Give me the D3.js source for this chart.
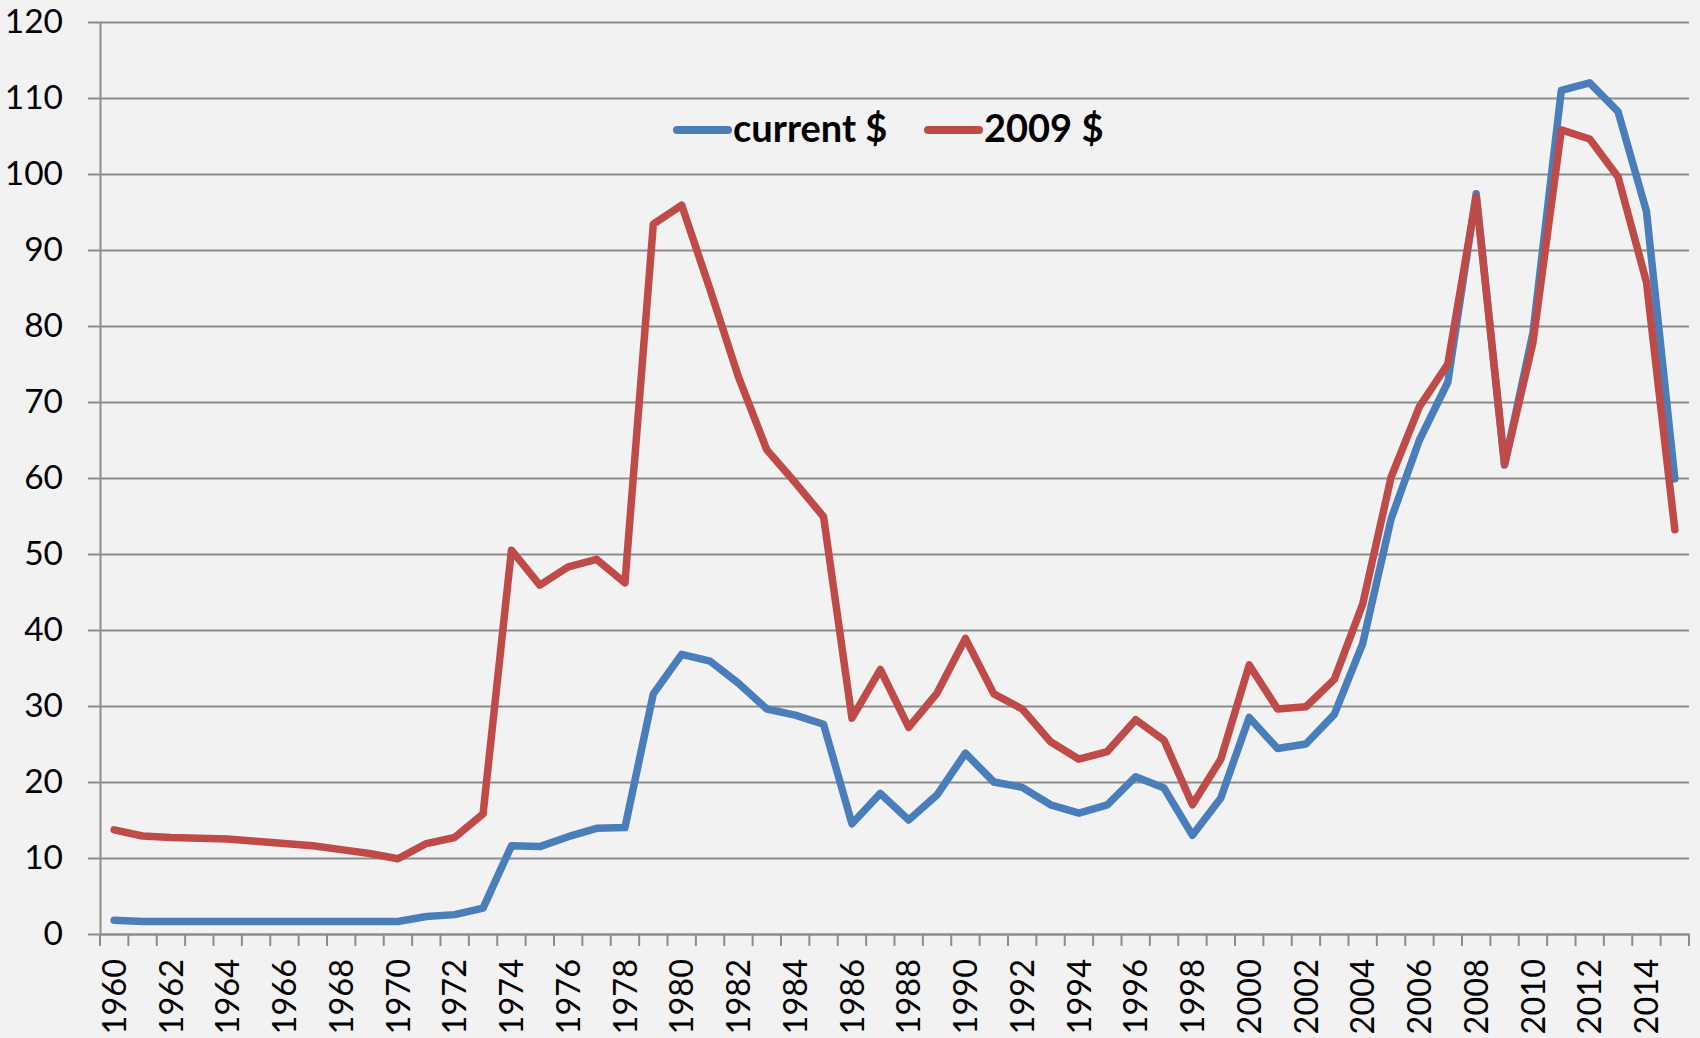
<!DOCTYPE html>
<html>
<head>
<meta charset="utf-8">
<script src="https://cdn.jsdelivr.net/npm/d3@7"></script>
<style>
  html, body { margin: 0; padding: 0; background: #f2f2f2; }
  svg { display: block; }
</style>
</head>
<body>
<svg id="chart" width="1700" height="1038"></svg>
<script>
const years = d3.range(1960, 2016);

const seriesNames = ["current $", "2009 $"];
const seriesColors = ["#4a7ebb", "#be4b48"];

const currentDollars = [
  1.8, 1.65, 1.65, 1.65, 1.65, 1.65, 1.65, 1.65, 1.65, 1.65,
  1.65, 2.3, 2.55, 3.4, 11.6, 11.5, 12.8, 13.9, 14.0, 31.6,
  36.8, 35.9, 33.0, 29.6, 28.8, 27.6, 14.5, 18.5, 15.0, 18.3,
  23.8, 20.0, 19.3, 17.0, 15.9, 17.0, 20.7, 19.2, 13.0, 17.9,
  28.5, 24.4, 25.0, 28.9, 38.2, 54.6, 65.0, 72.6, 97.4, 61.7,
  79.1, 111.0, 112.0, 108.2, 95.1, 59.9
];

const dollars2009 = [
  13.7, 12.9, 12.7, 12.6, 12.5, 12.2, 11.9, 11.6, 11.1, 10.6,
  9.9, 11.9, 12.7, 15.8, 50.5, 45.9, 48.3, 49.3, 46.2, 93.4,
  95.9, 84.8, 73.3, 63.7, 59.4, 54.9, 28.4, 34.8, 27.2, 31.7,
  38.9, 31.6, 29.6, 25.3, 23.0, 24.0, 28.2, 25.5, 17.0, 23.0,
  35.4, 29.6, 29.9, 33.5, 43.4, 60.1, 69.4, 75.0, 97.0, 61.8,
  77.8, 105.8, 104.6, 99.6, 85.8, 53.2
];

const yTicks = d3.range(0, 121, 10);

(function draw() {
  const svg = d3.select("#chart");
  const mLeft = 100, mRight = 1689, mTop = 22, mBottom = 934;

  const x = d3.scaleBand().domain(years).range([mLeft, mRight]).padding(0);
  const y = d3.scaleLinear().domain([0, 120]).range([mBottom, mTop]);

  const gridColor = "#8c8c8c";
  const font = "Lato, 'Open Sans', sans-serif";

  // gridlines
  const grid = svg.append("g").attr("transform", `translate(${mLeft},0)`)
    .call(d3.axisLeft(y).tickValues(yTicks).tickSizeInner(-(mRight - mLeft)).tickSizeOuter(0).tickFormat(""));
  grid.select(".domain").remove();
  grid.selectAll("line").attr("stroke", gridColor).attr("stroke-width", 2);

  // y axis with ticks and labels
  const yAxis = svg.append("g").attr("transform", `translate(${mLeft},0)`)
    .call(d3.axisLeft(y).tickValues(yTicks).tickSizeInner(12).tickSizeOuter(0).tickPadding(25));
  yAxis.select(".domain").attr("stroke", gridColor).attr("stroke-width", 2);
  yAxis.selectAll("line").attr("stroke", gridColor).attr("stroke-width", 2);
  yAxis.selectAll("text").attr("font-family", font).attr("font-size", 33.5).attr("fill", "#000");

  // x axis: labels at band centres for even years
  const xAxis = svg.append("g").attr("transform", `translate(0,${mBottom})`)
    .call(d3.axisBottom(x).tickValues(years.filter(d => d % 2 === 0)).tickSize(0).tickSizeOuter(0));
  xAxis.select(".domain").attr("stroke", gridColor).attr("stroke-width", 2);
  xAxis.selectAll("text")
    .attr("font-family", font).attr("font-size", 32.5).attr("fill", "#000")
    .attr("transform", "rotate(-90)")
    .attr("text-anchor", "end")
    .attr("x", -25).attr("y", 0).attr("dy", "0.36em");

  // x tick marks at band boundaries
  const boundaries = years.map(d => x(d)).concat([x(years[years.length - 1]) + x.bandwidth()]);
  svg.append("g").selectAll("line").data(boundaries).join("line")
    .attr("x1", d => d).attr("x2", d => d)
    .attr("y1", mBottom).attr("y2", mBottom + 12)
    .attr("stroke", gridColor).attr("stroke-width", 2);

  // lines
  const line = d3.line()
    .x((d, i) => x(years[i]) + x.bandwidth() / 2)
    .y(d => y(d));

  [currentDollars, dollars2009].forEach((vals, k) => {
    svg.append("path")
      .datum(vals)
      .attr("d", line)
      .attr("fill", "none")
      .attr("stroke", seriesColors[k])
      .attr("stroke-width", 7.5)
      .attr("stroke-linejoin", "round")
      .attr("stroke-linecap", "round");
  });

  // legend
  const legendItems = [
    { name: seriesNames[0], color: seriesColors[0], x: 673 },
    { name: seriesNames[1], color: seriesColors[1], x: 924 }
  ];
  const lg = svg.append("g");
  legendItems.forEach(it => {
    lg.append("line")
      .attr("x1", it.x + 4).attr("x2", it.x + 55)
      .attr("y1", 130).attr("y2", 130)
      .attr("stroke", it.color).attr("stroke-width", 8).attr("stroke-linecap", "round");
    lg.append("text")
      .attr("x", it.x + 60).attr("y", 142)
      .attr("font-family", font).attr("font-weight", "bold").attr("font-size", 38)
      .attr("fill", "#000")
      .text(it.name);
  });
})();
</script>
</body>
</html>
